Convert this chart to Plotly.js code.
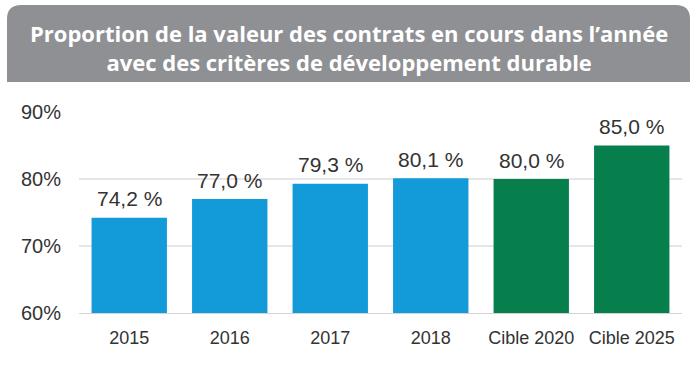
<!DOCTYPE html>
<html><head><meta charset="utf-8">
<script src="https://cdn.plot.ly/plotly-3.0.1.min.js"></script>
<style>html,body{margin:0;padding:0;background:#fff}#c{width:696px;height:368px}</style>
</head><body><div id="c"></div>
<script>
const categories = ['2015','2016','2017','2018','Cible 2020','Cible 2025'];
const values = [74.2, 77.0, 79.3, 80.1, 80.0, 85.0];
const barColors = ['#139bd9','#139bd9','#139bd9','#139bd9','#077f4d','#077f4d'];
const yTicks = [60, 70, 80, 90];
const titleLines = ['Proportion de la valeur des contrats en cours dans l’année', 'avec des critères de développement durable'];

const L = 79, R = 682, T = 112, B = 313, W = 696, H = 368;
const px = x => (x - L) / (R - L);
const py = y => (B - y) / (B - T);

const hx0 = px(7), hx1 = px(690), hy0 = py(82), hy1 = py(5);
const rx = 14 / (R - L), ry = 14 / (B - T);
const headerPath = `M ${hx0} ${hy0} L ${hx0} ${hy1 - ry} Q ${hx0} ${hy1} ${hx0 + rx} ${hy1} L ${hx1 - rx} ${hy1} Q ${hx1} ${hy1} ${hx1} ${hy1 - ry} L ${hx1} ${hy0} Z`;

const trace = {
  type: 'bar', x: categories, y: values,
  marker: { color: barColors },
  hoverinfo: 'none'
};

const labelFont = { family: 'Liberation Sans, Arial, sans-serif', size: 21, color: '#333333' };
const valueLabels = categories.map((c, i) => ({
  xref: 'x', yref: 'y', x: i, y: values[i], yshift: 19,
  xanchor: 'center', yanchor: 'middle', showarrow: false,
  text: values[i].toFixed(1).replace('.', ',') + ' %', font: labelFont
}));

const layout = {
  width: W, height: H,
  margin: { l: L, r: W - R, t: T, b: H - B, pad: 0 },
  paper_bgcolor: '#ffffff', plot_bgcolor: '#ffffff',
  bargap: 0.25, showlegend: false,
  xaxis: {
    type: 'category', range: [-0.5, categories.length - 0.5], autorange: false,
    showgrid: false, zeroline: false,
    showline: true, linecolor: '#d4d4d4', linewidth: 1,
    ticks: '', ticklabelstandoff: 8,
    tickfont: { family: 'Liberation Sans, Arial, sans-serif', size: 18, color: '#333333' }
  },
  yaxis: {
    range: [60, 90], tickvals: yTicks, ticktext: yTicks.map(v => v + '%'),
    showgrid: true, gridcolor: '#e6e6e6', gridwidth: 2, zeroline: false,
    showline: false, ticks: '', ticklabelstandoff: 17,
    tickfont: { family: 'Liberation Sans, Arial, sans-serif', size: 20, color: '#333333' }
  },
  shapes: [{ type: 'path', xref: 'paper', yref: 'paper', path: headerPath, fillcolor: '#8f9094', line: { width: 0 }, layer: 'above' }],
  annotations: [{
    xref: 'paper', yref: 'paper', x: px(349), y: py(47), xanchor: 'center', yanchor: 'middle',
    text: '<b>' + titleLines.join('<br>') + '</b>', showarrow: false, align: 'center',
    font: { family: 'Open Sans, sans-serif', size: 22, color: '#ffffff' }
  }].concat(valueLabels)
};

Plotly.newPlot('c', [trace], layout, { displayModeBar: false, staticPlot: true });
</script></body></html>
